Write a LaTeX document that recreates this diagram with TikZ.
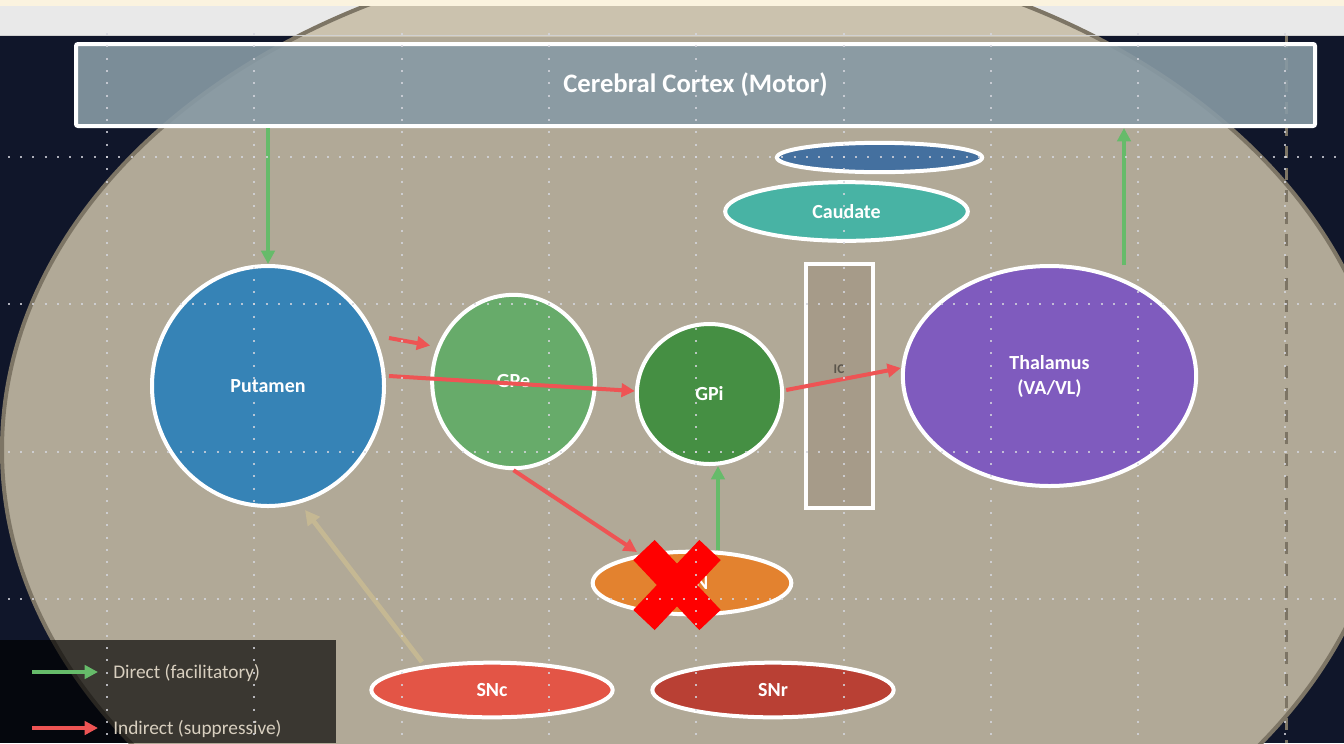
\documentclass[tikz,border=0pt]{standalone}
\usepackage{fontspec}
\setmainfont{Carlito}
\usetikzlibrary{shapes.geometric,arrows.meta}

\definecolor{navybg}{HTML}{10162A}
\definecolor{tanbg}{HTML}{B1A997}
\definecolor{tanlight}{HTML}{CBC2AE}
\definecolor{tanedge}{HTML}{7D7565}
\definecolor{stripcream}{HTML}{FBF3DF}
\definecolor{stripgray}{HTML}{E9E9E9}
\definecolor{cortexfill}{HTML}{879AA5}
\definecolor{putamenfill}{HTML}{3683B6}
\definecolor{gpefill}{HTML}{67AB6A}
\definecolor{gpifill}{HTML}{458F43}
\definecolor{thalfill}{HTML}{7F5BBE}
\definecolor{caudfill}{HTML}{48B3A4}
\definecolor{topfill}{HTML}{44709F}
\definecolor{stnfill}{HTML}{E3822F}
\definecolor{sncfill}{HTML}{E35546}
\definecolor{snrfill}{HTML}{B94034}
\definecolor{icfill}{HTML}{A69B89}
\definecolor{ictext}{HTML}{5B554B}
\definecolor{dirgreen}{HTML}{66BB6A}
\definecolor{indred}{HTML}{EE5454}
\definecolor{nigrotan}{HTML}{C5B893}
\definecolor{legendtxt}{HTML}{D8CFBF}
\definecolor{griddot}{HTML}{D5D6DE}

\tikzset{
	region/.style={ellipse, draw=white, line width=3pt, text=white, inner sep=0pt,
		font=\bfseries\fontsize{15}{18.75}\selectfont, align=center},
	pathdirect/.style={draw=dirgreen, line width=3pt, -{Triangle[length=10pt,width=10pt]}},
	pathindirect/.style={draw=indred, line width=3pt, -{Triangle[length=10pt,width=10pt]}},
	pathnigro/.style={draw=nigrotan, line width=3.5pt, -{Triangle[length=11pt,width=11pt]}},
	crossout/.style={draw=red, line width=22pt},
	gridline/.style={draw=griddot, opacity=.8, line width=1.5pt, dash pattern=on 1.5pt off 7.71pt},
	legendtext/.style={text=legendtxt, font=\fontsize{14.5}{16}\selectfont, inner sep=3pt, anchor=west}
}

\begin{document}
\begin{tikzpicture}[x=0.75pt, y=-0.75pt]
	%%%%% START %%%%%
	\useasboundingbox (0,0) rectangle (1344,743);
	\clip (0,0) rectangle (1344,743);
	
	\fill[navybg] (0,0) rectangle (1344,743);
	\draw[fill=tanbg, draw=tanedge, line width=3pt] (696,450) ellipse [x radius=520.5pt, y radius=378.75pt];
	
	% browser strip on top
	\fill[stripgray] (0,6) rectangle (1344,36);
	\begin{scope}
		\clip (0,6) rectangle (1344,36);
		\draw[fill=tanlight, draw=tanedge, line width=3pt] (696,450) ellipse [x radius=520.5pt, y radius=378.75pt];
	\end{scope}
	\fill[stripcream] (0,0) rectangle (1344,6);
	\draw[black!18, line width=0.75pt] (0,35.5) -- (1344,35.5);
	
	\draw[tanedge, line width=2.25pt, dash pattern=on 9pt off 7.5pt] (1286,36) -- (1286,743);
	
	% cortex
	\node[draw=white, line width=3pt, fill=cortexfill, fill opacity=.9, text opacity=1, text=white,
		rounded corners=1.5pt, minimum width=929.25pt, minimum height=61.5pt,
		font=\bfseries\fontsize{20}{22}\selectfont] (cortex) at (695.5,85) {Cerebral Cortex (Motor)};
	
	% nuclei
	\node[region, fill=topfill, minimum width=154pt, minimum height=22pt] (topnuc) at (879.5,157.5) {};
	\node[region, fill=caudfill, minimum width=182pt, minimum height=44pt] (caudate) at (846.5,211.5) {Caudate};
	\node[region, fill=putamenfill, minimum width=174pt, minimum height=180pt] (putamen) at (268,386) {Putamen};
	\node[region, fill=gpefill, minimum width=122pt, minimum height=130pt] (gpe) at (513.5,381.5) {GPe};
	\node[region, fill=gpifill, minimum width=109pt, minimum height=105pt] (gpi) at (709.5,394) {GPi};
	\node[draw=white, line width=3pt, fill=icfill, minimum width=50pt, minimum height=183pt] (ic) at (839.5,386) {};
	\node[text=ictext, font=\bfseries\fontsize{10}{11}\selectfont] (iclabel) at (839,369) {IC};
	\node[region, fill=thalfill, minimum width=220pt, minimum height=165pt] (thalamus) at (1049.5,376) {Thalamus\\(VA/VL)};
	\node[region, fill=stnfill, minimum width=149pt, minimum height=47pt] (stn) at (692,583) {STN};
	\node[region, fill=sncfill, minimum width=181pt, minimum height=41pt] (snc) at (492,690) {SNc};
	\node[region, fill=snrfill, minimum width=181pt, minimum height=41pt] (snr) at (773,690) {SNr};
	
	% pathways
	\coordinate (thalout) at (1124,265);
	\draw[pathdirect] (cortex.south -| putamen.north) -- (putamen.north);
	\draw[pathdirect] (thalout) -- (thalout |- cortex.south);
	\draw[pathindirect] ([shift={(3,-48)}]putamen.east) -- ([shift={(0,-36)}]gpe.west);
	\draw[pathindirect] ([shift={(3,-10)}]putamen.east) -- ([shift={(0,-3)}]gpi.west);
	\draw[pathindirect] (gpe.south) -- ([shift={(-55,-31)}]stn.center);
	\draw[pathindirect] ([shift={(2,-4)}]gpi.east) -- ([shift={(0,-8)}]thalamus.west);
	\draw[pathdirect] ([shift={(26,-33)}]stn.center) -- ([shift={(8.5,0)}]gpi.south);
	\draw[pathnigro] ([shift={(-70,-28)}]snc.center) -- ([shift={(37,2)}]putamen.south);
	
	% lesion
	\coordinate (stnx) at (677,585);
	\draw[crossout] ([shift={(-33,-35)}]stnx) -- ([shift={(33,35)}]stnx);
	\draw[crossout] ([shift={(33,-35)}]stnx) -- ([shift={(-33,35)}]stnx);
	
	% legend
	\fill[black, opacity=.67] (0,640) rectangle (336,743);
	\node[legendtext] (lgdirect) at (109,673) {Direct (facilitatory)};
	\node[legendtext] (lgindirect) at (109,729) {Indirect (suppressive)};
	\coordinate (lgdirstart) at (32,672);
	\coordinate (lgindstart) at (32,728);
	\draw[pathdirect] (lgdirstart) -- ([shift={(-11,-1)}]lgdirect.west);
	\draw[pathindirect] (lgindstart) -- ([shift={(-11,-1)}]lgindirect.west);
	
	% dotted grid
	\foreach \gx in {0,...,8}
		\draw[gridline] (107+147.3*\gx,33.2) -- (107+147.3*\gx,743);
	\foreach \gy in {157,304.3,451.6,598.9}
		\draw[gridline] (7.8,\gy) -- (1344,\gy);
	%%%%% END %%%%%
\end{tikzpicture}
\end{document}
